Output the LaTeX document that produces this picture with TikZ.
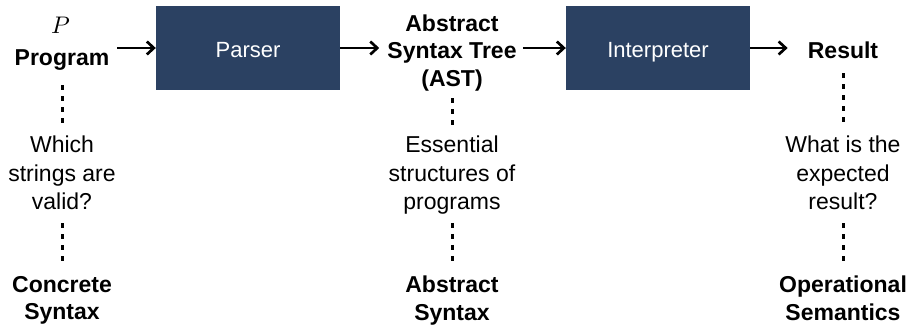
\documentclass[tikz,border=0pt]{standalone}
\usepackage{fontspec}
\usepackage{unicode-math}
\setmainfont{Liberation Sans}
\usetikzlibrary{arrows.meta}
\definecolor{boxblue}{HTML}{2B4162}
\begin{document}
\begin{tikzpicture}[x=1pt,y=-1pt,
  lbl/.style={font=\bfseries\fontsize{23}{27.5}\selectfont, inner sep=0pt, align=center},
  qtxt/.style={font=\fontsize{23}{28.5}\selectfont, inner sep=0pt, align=center},
  stage/.style={fill=boxblue, text=white, minimum width=184pt, minimum height=84pt, inner sep=0pt, text height=22pt, text depth=4pt, font=\fontsize{22}{26}\selectfont},
  arr/.style={line width=2.7pt, -{Straight Barb[length=7pt,width=13pt]}},
  dots/.style={line width=3pt, dash pattern=on 5pt off 6pt}]
\useasboundingbox (0,0) rectangle (910,324);
\node[font=\fontsize{24}{28}\selectfont, inner sep=0pt, anchor=base] (p) at (61,33) {$P$};
\node[lbl, anchor=base] (prog) at (62,65) {Program};
\node[stage] (parser) at (248,48) {Parser};
\node[lbl, anchor=north] (ast) at (452,14.5) {Abstract\\Syntax Tree\\(AST)};
\node[stage] (interp) at (658,48) {Interpreter};
\node[lbl, anchor=base] (res) at (843,58) {Result};
\node[qtxt, anchor=north] (q1) at (62,136) {Which\\strings are\\valid?};
\node[qtxt, anchor=north] (q2) at (452,136) {Essential\\structures of\\programs};
\node[qtxt, anchor=north] (q3) at (843,136) {What is the\\expected\\result?};
\node[lbl, anchor=north] (c1) at (62,276) {Concrete\\Syntax};
\node[lbl, anchor=north] (c2) at (452,276) {Abstract\\Syntax};
\node[lbl, anchor=north] (c3) at (843,276) {Operational\\Semantics};
\draw[arr, shorten <=8pt] (prog.east |- parser.west) -- (parser.west);
\draw[arr, shorten >=8pt] (parser.east) -- (ast.west |- parser.east);
\draw[arr, shorten <=6pt] (ast.east |- interp.west) -- (interp.west);
\draw[arr, shorten >=20pt] (interp.east) -- (res.west |- interp.east);
\draw[dots, shorten <=15pt, shorten >=13pt] (prog.south) -- (q1.north);
\draw[dots, shorten <=13pt, shorten >=13.5pt] (q1.south) -- (c1.north);
\draw[dots, shorten <=7pt, shorten >=11pt] (ast.south) -- (q2.north);
\draw[dots, shorten <=8pt, shorten >=13.5pt] (q2.south) -- (c2.north);
\draw[dots, shorten <=15pt, shorten >=11pt] (res.south) -- (q3.north);
\draw[dots, shorten <=13pt, shorten >=13.5pt] (q3.south) -- (c3.north);
\end{tikzpicture}
\end{document}
